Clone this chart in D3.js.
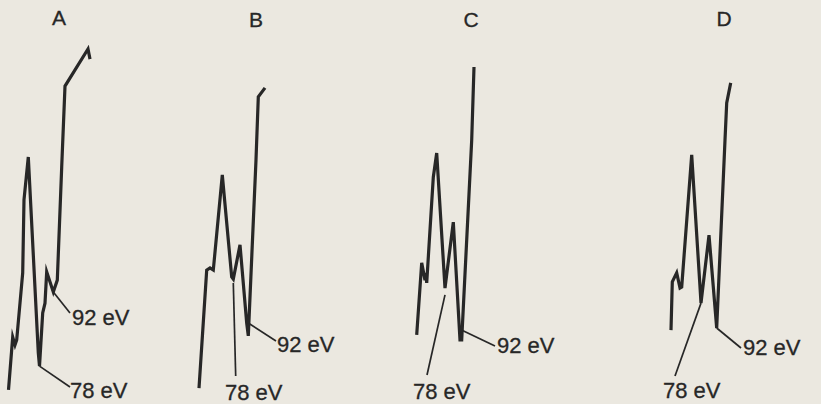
<!DOCTYPE html>
<html>
<head>
<meta charset="utf-8">
<script src="https://cdn.jsdelivr.net/npm/d3@7"></script>
<style>
  html, body { margin: 0; padding: 0; background: #ebe8e0; }
  svg { display: block; }
</style>
</head>
<body>
<svg id="chart" width="821" height="404"></svg>
<script>
// ---------- DATA ----------
const panels = ["A", "B", "C", "D"];

// relative energy axis (arbitrary units), intensity (arbitrary units, 0–100)
const traceA_x = [8.5, 12.7, 15, 16.7, 22.7, 24, 28.3, 38.3, 39.5, 42.7, 45, 46.7, 53.3, 57.3, 61.7, 65, 88, 90];
const traceA_y = [2.8, 17.5, 15.3, 16.7, 35.3, 55.6, 67.5, 13.1, 9.4, 24.2, 26.9, 35.6, 30.0, 33.3, 64.7, 87.2, 97.5, 94.7];

const traceB_x = [9, 16.7, 20, 23.3, 32.3, 41.7, 43.3, 50, 56.7, 58.3, 66, 68.3, 75];
const traceB_y = [3.3, 36.1, 36.7, 36.1, 62.5, 34.2, 33.6, 43.1, 21.4, 17.8, 66.7, 84.2, 86.7];

const traceC_x = [11.7, 16.7, 20, 21, 21.7, 28.3, 31.7, 40, 48.3, 55, 56.7, 66.7, 69];
const traceC_y = [18.1, 38.1, 33.3, 35.3, 32.5, 61.9, 68.6, 31.1, 49.4, 16.7, 16.7, 72.2, 92.5];

const traceD_x = [11, 12.3, 16.7, 20, 21.7, 31.7, 40, 41, 49, 56.7, 65, 66.7, 70.7];
const traceD_y = [19.4, 32.8, 35.3, 31.1, 31.4, 68.1, 31.4, 26.9, 45.8, 20.0, 72.2, 82.5, 88.1];

// annotated points: label text, and the trace point they refer to
const labels92 = ["92 eV", "92 eV", "92 eV", "92 eV"];
const labels78 = ["78 eV", "78 eV", "78 eV", "78 eV"];
const point92_x = [53.3, 58.3, 57, 56.7];
const point92_y = [30.0, 21.4, 19.4, 20.0];
const point78_x = [39.5, 43.3, 40, 41];
const point78_y = [9.4, 32.5, 29.2, 26.9];

// ---------- LAYOUT ----------
const W = 821, H = 404;
const panelLeft = [0, 190, 405, 660];
const titleX = [59, 256, 471, 724];
const titleBase = [25, 27, 27, 26];
// label text origin and leader end point (px)
const lab92 = [{x: 72, y: 325, ex: 70, ey: 313}, {x: 277, y: 352, ex: 276, ey: 341},
               {x: 497, y: 353, ex: 495, ey: 346}, {x: 743, y: 355, ex: 741, ey: 348}];
const lab78 = [{x: 70, y: 398, ex: 70, ey: 387}, {x: 225, y: 400, ex: 235.7, ey: 376},
               {x: 413, y: 399, ex: 427, ey: 375}, {x: 663, y: 398, ex: 675, ey: 376}];

const ink = "#272727";
const fontFam = "'Liberation Sans', Arial, sans-serif";

const svg = d3.select("#chart");
svg.append("rect").attr("width", W).attr("height", H).attr("fill", "#ebe8e0");

const x = d3.scaleLinear().domain([0, 100]).range([0, 100]);
const y = d3.scaleLinear().domain([0, 100]).range([400, 40]);

const traces = [
  d3.zip(traceA_x, traceA_y),
  d3.zip(traceB_x, traceB_y),
  d3.zip(traceC_x, traceC_y),
  d3.zip(traceD_x, traceD_y)
];

const line = d3.line().x(d => x(d[0])).y(d => y(d[1]));

panels.forEach((name, i) => {
  const g = svg.append("g").attr("transform", `translate(${panelLeft[i]},0)`);

  svg.append("text")
    .attr("x", titleX[i]).attr("y", titleBase[i])
    .attr("text-anchor", "middle")
    .attr("font-family", fontFam).attr("font-size", 21)
    .attr("fill", ink)
    .attr("stroke", ink).attr("stroke-width", 0.3)
    .text(name);

  g.append("path")
    .datum(traces[i])
    .attr("d", line)
    .attr("fill", "none")
    .attr("stroke", ink)
    .attr("stroke-width", 3.2)
    .attr("stroke-linejoin", "miter")
    .attr("stroke-miterlimit", 6);

  const px92 = panelLeft[i] + x(point92_x[i]), py92 = y(point92_y[i]);
  const px78 = panelLeft[i] + x(point78_x[i]), py78 = y(point78_y[i]);
  svg.append("line")
    .attr("x1", px92).attr("y1", py92).attr("x2", lab92[i].ex).attr("y2", lab92[i].ey)
    .attr("stroke", ink).attr("stroke-width", 1.7);
  svg.append("line")
    .attr("x1", px78).attr("y1", py78).attr("x2", lab78[i].ex).attr("y2", lab78[i].ey)
    .attr("stroke", ink).attr("stroke-width", 1.7);

  svg.append("text")
    .attr("x", lab92[i].x).attr("y", lab92[i].y)
    .attr("font-family", fontFam).attr("font-size", 22)
    .attr("fill", ink).attr("stroke", ink).attr("stroke-width", 0.3)
    .text(labels92[i]);
  svg.append("text")
    .attr("x", lab78[i].x).attr("y", lab78[i].y)
    .attr("font-family", fontFam).attr("font-size", 22)
    .attr("fill", ink).attr("stroke", ink).attr("stroke-width", 0.3)
    .text(labels78[i]);
});
</script>
</body>
</html>
